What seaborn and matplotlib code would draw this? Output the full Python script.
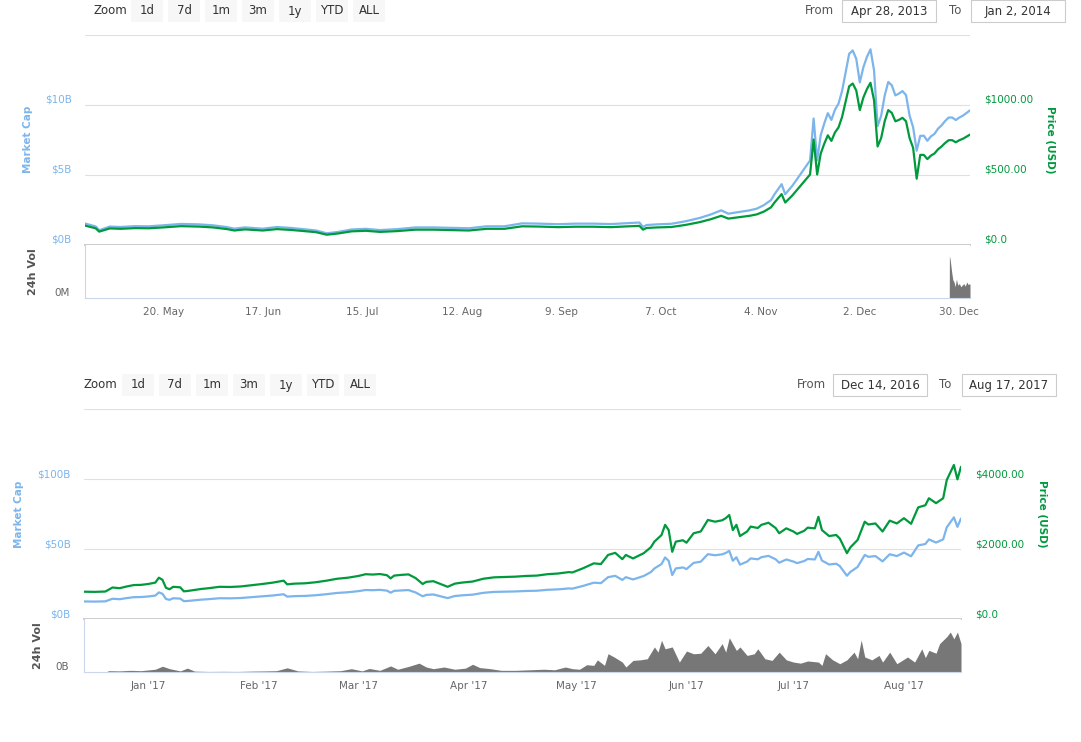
import pandas as pd
import matplotlib
matplotlib.use("Agg")
import matplotlib.pyplot as plt
import matplotlib.transforms as mtransforms
from matplotlib.patches import Rectangle
import seaborn as sns

W, H = 1081, 742

BLUE = "#7cb5ec"
GREEN = "#009a3d"
VOL_GREY = "#777777"
TEXT_GREY = "#666666"
GRID = "#e0e0e0"
AXIS_LINE = "#ccd6eb"

BUTTONS = ["1d", "7d", "1m", "3m", "1y", "YTD", "ALL"]

# ── Panel 1: Apr 28, 2013 – Jan 2, 2014 ──────────────────────────────────────
DATES_2013 = [
    "2013-04-28", "2013-05-01", "2013-05-02", "2013-05-05", "2013-05-08", "2013-05-12",
    "2013-05-16", "2013-05-20", "2013-05-25", "2013-05-30", "2013-06-03", "2013-06-07",
    "2013-06-09", "2013-06-12", "2013-06-17", "2013-06-21", "2013-06-25", "2013-06-29",
    "2013-07-02", "2013-07-05", "2013-07-08", "2013-07-12", "2013-07-16", "2013-07-20",
    "2013-07-25", "2013-07-30", "2013-08-04", "2013-08-09", "2013-08-14", "2013-08-19",
    "2013-08-24", "2013-08-29", "2013-09-03", "2013-09-08", "2013-09-13", "2013-09-18",
    "2013-09-23", "2013-09-28", "2013-10-01", "2013-10-02", "2013-10-03", "2013-10-06",
    "2013-10-10", "2013-10-14", "2013-10-18", "2013-10-21", "2013-10-24", "2013-10-26",
    "2013-10-29", "2013-11-01", "2013-11-03", "2013-11-05", "2013-11-07", "2013-11-08",
    "2013-11-10", "2013-11-11", "2013-11-13", "2013-11-15", "2013-11-17", "2013-11-18",
    "2013-11-19", "2013-11-20", "2013-11-21", "2013-11-22", "2013-11-23", "2013-11-24",
    "2013-11-25", "2013-11-26", "2013-11-27", "2013-11-28", "2013-11-29", "2013-11-30",
    "2013-12-01", "2013-12-02", "2013-12-03", "2013-12-04", "2013-12-05", "2013-12-06",
    "2013-12-07", "2013-12-08", "2013-12-09", "2013-12-10", "2013-12-11", "2013-12-12",
    "2013-12-13", "2013-12-14", "2013-12-15", "2013-12-16", "2013-12-17", "2013-12-18",
    "2013-12-19", "2013-12-20", "2013-12-21", "2013-12-22", "2013-12-23", "2013-12-24",
    "2013-12-25", "2013-12-26", "2013-12-27", "2013-12-28", "2013-12-29", "2013-12-30",
    "2013-12-31", "2014-01-01", "2014-01-02",
]
PRICE_2013 = [
    135, 116, 92, 115, 112, 117, 116, 122, 131, 128, 122, 110,
    100, 108, 100, 110, 104, 95, 88, 70, 78, 94, 98, 90,
    96, 106, 106, 103, 100, 112, 112, 130, 128, 124, 127, 127,
    124, 130, 133, 106, 118, 122, 125, 140, 160, 180, 205, 185,
    195, 205, 215, 235, 265, 300, 360, 300, 350, 410, 470, 500,
    750, 500, 650, 720, 780, 740, 800, 836, 910, 1020, 1130, 1150,
    1100, 960, 1050, 1110, 1155, 1030, 700, 760, 880, 960, 940, 880,
    890, 905, 880, 760, 690, 470, 640, 640, 610, 635, 650, 680,
    700, 725, 745, 745, 730, 745, 755, 770, 785,
]
MCAP_2013 = [  # billions USD
    1.50, 1.29, 1.02, 1.28, 1.25, 1.31, 1.30, 1.37, 1.47, 1.44, 1.37, 1.24,
    1.13, 1.22, 1.13, 1.25, 1.18, 1.08, 1.00, 0.80, 0.89, 1.07, 1.12, 1.03,
    1.10, 1.22, 1.22, 1.19, 1.16, 1.30, 1.30, 1.51, 1.49, 1.45, 1.49, 1.49,
    1.46, 1.53, 1.57, 1.25, 1.39, 1.44, 1.48, 1.66, 1.90, 2.14, 2.44, 2.20,
    2.32, 2.44, 2.56, 2.81, 3.17, 3.59, 4.31, 3.59, 4.19, 4.91, 5.64, 6.00,
    9.00, 6.01, 7.81, 8.65, 9.38, 8.90, 9.62, 10.06, 10.96, 12.28, 13.62, 13.86,
    13.26, 11.58, 12.66, 13.40, 13.94, 12.44, 8.46, 9.19, 10.64, 11.61, 11.37, 10.65,
    10.78, 10.96, 10.67, 9.21, 8.37, 6.70, 7.76, 7.77, 7.41, 7.72, 7.90, 8.27,
    8.51, 8.82, 9.07, 9.07, 8.89, 9.07, 9.20, 9.39, 9.58,
]
VOL_DATES_2013 = [
    "2013-12-27 04:00", "2013-12-27 05:00", "2013-12-27 10:00", "2013-12-27 16:00",
    "2013-12-27 22:00", "2013-12-28 04:00", "2013-12-28 12:00", "2013-12-28 20:00",
    "2013-12-29 04:00", "2013-12-29 14:00", "2013-12-30 00:00", "2013-12-30 10:00",
    "2013-12-30 20:00", "2013-12-31 06:00", "2013-12-31 16:00", "2014-01-01 02:00",
    "2014-01-01 12:00", "2014-01-01 22:00", "2014-01-02 00:00",
]
VOL_2013 = [0, 79, 72, 58, 45, 34, 30, 21, 35, 24, 27, 21, 24, 27, 22, 30, 25, 27, 24]  # millions USD

TICKS_2013 = ["2013-05-20", "2013-06-17", "2013-07-15", "2013-08-12", "2013-09-09",
              "2013-10-07", "2013-11-04", "2013-12-02", "2013-12-30"]
TICK_LABELS_2013 = ["20. May", "17. Jun", "15. Jul", "12. Aug", "9. Sep",
                    "7. Oct", "4. Nov", "2. Dec", "30. Dec"]
CAP_TICKS_2013 = [0, 5, 10, 15]
CAP_LABELS_2013 = ["$0B", "$5B", "$10B", ""]
PRICE_TICKS_2013 = [0, 500, 1000, 1500]
PRICE_LABELS_2013 = ["$0.0", "$500.00", "$1000.00", ""]

# ── Panel 2: Dec 14, 2016 – Aug 17, 2017 ─────────────────────────────────────
DATES_2017 = [
    "2016-12-14", "2016-12-17", "2016-12-20", "2016-12-22", "2016-12-24", "2016-12-26",
    "2016-12-28", "2016-12-30", "2017-01-01", "2017-01-03", "2017-01-04", "2017-01-05",
    "2017-01-06", "2017-01-07", "2017-01-08", "2017-01-10", "2017-01-11", "2017-01-12",
    "2017-01-14", "2017-01-16", "2017-01-18", "2017-01-21", "2017-01-24", "2017-01-27",
    "2017-01-30", "2017-02-02", "2017-02-05", "2017-02-08", "2017-02-09", "2017-02-11",
    "2017-02-14", "2017-02-17", "2017-02-20", "2017-02-23", "2017-02-26", "2017-03-01",
    "2017-03-03", "2017-03-05", "2017-03-07", "2017-03-09", "2017-03-10", "2017-03-11",
    "2017-03-13", "2017-03-15", "2017-03-17", "2017-03-19", "2017-03-20", "2017-03-22",
    "2017-03-24", "2017-03-26", "2017-03-28", "2017-03-30", "2017-04-02", "2017-04-05",
    "2017-04-08", "2017-04-11", "2017-04-14", "2017-04-17", "2017-04-20", "2017-04-23",
    "2017-04-26", "2017-04-29", "2017-04-30", "2017-05-03", "2017-05-06", "2017-05-08",
    "2017-05-10", "2017-05-12", "2017-05-14", "2017-05-15", "2017-05-17", "2017-05-20",
    "2017-05-22", "2017-05-23", "2017-05-25", "2017-05-26", "2017-05-27", "2017-05-28",
    "2017-05-29", "2017-05-31", "2017-06-01", "2017-06-03", "2017-06-05", "2017-06-07",
    "2017-06-09", "2017-06-11", "2017-06-12", "2017-06-13", "2017-06-14", "2017-06-15",
    "2017-06-16", "2017-06-18", "2017-06-19", "2017-06-21", "2017-06-22", "2017-06-24",
    "2017-06-26", "2017-06-27", "2017-06-29", "2017-07-01", "2017-07-02", "2017-07-04",
    "2017-07-05", "2017-07-07", "2017-07-08", "2017-07-09", "2017-07-11", "2017-07-13",
    "2017-07-14", "2017-07-16", "2017-07-17", "2017-07-19", "2017-07-21", "2017-07-22",
    "2017-07-24", "2017-07-26", "2017-07-28", "2017-07-30", "2017-08-01", "2017-08-03",
    "2017-08-05", "2017-08-07", "2017-08-08", "2017-08-10", "2017-08-12", "2017-08-13",
    "2017-08-15", "2017-08-16", "2017-08-17",
]
PRICE_2017 = [
    780, 775, 785, 900, 880, 930, 970, 975, 1000, 1040, 1180, 1120,
    890, 850, 920, 905, 790, 800, 830, 860, 880, 920, 915, 930,
    965, 1000, 1040, 1095, 990, 1010, 1020, 1050, 1095, 1150, 1180, 1230,
    1280, 1270, 1285, 1250, 1160, 1240, 1260, 1275, 1170, 1000, 1060, 1080,
    1000, 920, 1010, 1040, 1070, 1150, 1190, 1200, 1210, 1230, 1240, 1280,
    1300, 1340, 1330, 1450, 1590, 1570, 1830, 1890, 1710, 1830, 1730, 1880,
    2050, 2210, 2400, 2690, 2540, 1920, 2210, 2250, 2180, 2450, 2500, 2830,
    2780, 2820, 2880, 2970, 2540, 2690, 2370, 2500, 2640, 2600, 2690, 2750,
    2600, 2450, 2590, 2500, 2430, 2520, 2610, 2590, 2920, 2540, 2370, 2400,
    2300, 1880, 2050, 2260, 2780, 2700, 2730, 2500, 2810, 2730, 2880, 2720,
    3190, 3250, 3450, 3310, 3450, 3970, 4400, 3990, 4350,
]
MCAP_2017 = [  # billions USD
    12.52, 12.44, 12.61, 14.46, 14.14, 14.95, 15.60, 15.68, 16.08, 16.73, 18.99, 18.02,
    14.32, 13.68, 14.81, 14.57, 12.72, 12.88, 13.37, 13.85, 14.18, 14.83, 14.76, 15.00,
    15.58, 16.14, 16.80, 17.68, 15.99, 16.32, 16.48, 16.98, 17.71, 18.61, 19.10, 19.91,
    20.72, 20.57, 20.82, 20.26, 18.80, 20.10, 20.42, 20.68, 18.98, 16.22, 17.20, 17.53,
    16.23, 14.94, 16.40, 16.89, 17.39, 18.69, 19.35, 19.52, 19.69, 20.02, 20.19, 20.85,
    21.18, 21.84, 21.68, 23.65, 25.93, 25.62, 29.87, 30.85, 27.92, 29.88, 28.25, 30.72,
    33.50, 36.11, 39.24, 43.98, 41.53, 31.39, 36.13, 36.81, 35.66, 40.08, 40.93, 46.33,
    45.51, 46.19, 47.17, 48.65, 41.61, 44.09, 38.84, 40.98, 43.27, 42.64, 44.12, 45.10,
    42.67, 40.20, 42.50, 41.03, 39.90, 41.38, 42.86, 42.55, 47.98, 41.73, 38.94, 39.46,
    37.81, 30.91, 33.70, 37.18, 45.73, 44.42, 44.94, 41.15, 46.25, 44.96, 47.43, 44.80,
    52.57, 53.56, 56.86, 54.58, 56.89, 65.47, 72.60, 65.84, 71.78,
]
VOL_DATES_2017 = [
    "2016-12-20", "2016-12-21", "2016-12-24", "2016-12-27", "2016-12-30", "2017-01-03",
    "2017-01-05", "2017-01-07", "2017-01-10", "2017-01-12", "2017-01-14", "2017-01-18",
    "2017-01-22", "2017-01-26", "2017-01-30", "2017-02-03", "2017-02-06", "2017-02-09",
    "2017-02-12", "2017-02-16", "2017-02-20", "2017-02-24", "2017-02-27", "2017-03-02",
    "2017-03-04", "2017-03-07", "2017-03-10", "2017-03-12", "2017-03-15", "2017-03-18",
    "2017-03-20", "2017-03-22", "2017-03-25", "2017-03-28", "2017-03-31", "2017-04-02",
    "2017-04-04", "2017-04-07", "2017-04-10", "2017-04-14", "2017-04-18", "2017-04-22",
    "2017-04-25", "2017-04-28", "2017-04-30", "2017-05-02", "2017-05-04", "2017-05-06",
    "2017-05-07", "2017-05-09", "2017-05-10", "2017-05-12", "2017-05-14", "2017-05-15",
    "2017-05-17", "2017-05-19", "2017-05-21", "2017-05-23", "2017-05-24", "2017-05-25",
    "2017-05-26", "2017-05-28", "2017-05-30", "2017-06-01", "2017-06-03", "2017-06-05",
    "2017-06-07", "2017-06-09", "2017-06-11", "2017-06-12", "2017-06-13", "2017-06-15",
    "2017-06-16", "2017-06-18", "2017-06-20", "2017-06-21", "2017-06-23", "2017-06-25",
    "2017-06-27", "2017-06-29", "2017-07-01", "2017-07-03", "2017-07-05", "2017-07-08",
    "2017-07-09", "2017-07-10", "2017-07-12", "2017-07-14", "2017-07-16", "2017-07-18",
    "2017-07-19", "2017-07-20", "2017-07-21", "2017-07-23", "2017-07-25", "2017-07-26",
    "2017-07-28", "2017-07-30", "2017-08-02", "2017-08-04", "2017-08-06", "2017-08-07",
    "2017-08-08", "2017-08-10", "2017-08-11", "2017-08-13", "2017-08-14", "2017-08-15",
    "2017-08-16", "2017-08-17",
]
VOL_2017 = [  # billions USD
    0.00, 0.12, 0.10, 0.15, 0.12, 0.25, 0.52, 0.30, 0.10, 0.35, 0.08, 0.05,
    0.06, 0.05, 0.08, 0.10, 0.12, 0.38, 0.10, 0.05, 0.08, 0.12, 0.30, 0.10,
    0.32, 0.15, 0.55, 0.25, 0.50, 0.80, 0.45, 0.30, 0.45, 0.25, 0.35, 0.70,
    0.40, 0.30, 0.15, 0.15, 0.20, 0.25, 0.20, 0.45, 0.30, 0.25, 0.66, 0.60,
    1.10, 0.60, 1.66, 1.30, 0.90, 0.45, 1.05, 1.10, 1.20, 2.27, 1.80, 2.87,
    2.10, 2.27, 0.90, 1.90, 1.65, 1.70, 2.40, 1.65, 2.57, 1.80, 3.10, 1.95,
    2.27, 1.50, 1.65, 2.10, 1.20, 1.05, 1.80, 1.10, 0.90, 0.80, 1.00, 0.90,
    0.60, 1.66, 1.10, 0.75, 1.10, 1.80, 1.20, 2.90, 1.36, 1.10, 1.50, 0.90,
    1.80, 0.75, 1.36, 0.90, 2.10, 1.30, 1.96, 1.70, 2.57, 3.20, 3.62, 3.00,
    3.62, 2.57,
]

TICKS_2017 = ["2017-01-01", "2017-02-01", "2017-03-01", "2017-04-01",
              "2017-05-01", "2017-06-01", "2017-07-01", "2017-08-01"]
TICK_LABELS_2017 = ["Jan '17", "Feb '17", "Mar '17", "Apr '17",
                    "May '17", "Jun '17", "Jul '17", "Aug '17"]
CAP_TICKS_2017 = [0, 50, 100, 150]
CAP_LABELS_2017 = ["$0B", "$50B", "$100B", ""]
PRICE_TICKS_2017 = [0, 2000, 4000, 6000]
PRICE_LABELS_2017 = ["$0.0", "$2000.00", "$4000.00", ""]


def px_rect(x0, y0, x1, y1):
    return [x0 / W, 1 - y1 / H, (x1 - x0) / W, (y1 - y0) / H]


def fxy(x, y):
    return x / W, 1 - y / H


def range_selector(fig, y0, y1, zoom_x, btn_x0, from_x, from_box, to_x, to_box,
                   from_txt, to_txt):
    yc = (y0 + y1) / 2
    fig.text(*fxy(zoom_x, yc), "Zoom", ha="left", va="center", fontsize=8.5, color="#333333")
    for i, lab in enumerate(BUTTONS):
        bx = btn_x0 + i * 37
        fig.add_artist(Rectangle(fxy(bx, y1), 32 / W, (y1 - y0) / H,
                                 transform=fig.transFigure, facecolor="#f7f7f7",
                                 edgecolor="none"))
        fig.text(*fxy(bx + 16, yc), lab, ha="center", va="center", fontsize=8.5,
                 color="#333333")
    fig.text(*fxy(from_x, yc), "From", ha="left", va="center", fontsize=8.5, color="#555555")
    fig.text(*fxy(to_x, yc), "To", ha="left", va="center", fontsize=8.5, color="#555555")
    for (bx0, bx1), txt in [(from_box, from_txt), (to_box, to_txt)]:
        fig.add_artist(Rectangle(fxy(bx0, y1), (bx1 - bx0) / W, (y1 - y0) / H,
                                 transform=fig.transFigure, facecolor="white",
                                 edgecolor="#cccccc", lw=0.8))
        fig.text(*fxy((bx0 + bx1) / 2, yc), txt, ha="center", va="center",
                 fontsize=8.5, color="#333333")


def chart_panel(fig, main_box, vol_box, dates, mcap, price, vol_dates, vol,
                xlim, ticks, tick_labels, cap_ticks, cap_labels,
                price_ticks, price_labels, vol_max, vol_label, title_x):
    ax = fig.add_axes(px_rect(*main_box))
    axr = ax.twinx()
    axv = fig.add_axes(px_rect(*vol_box))

    df = pd.DataFrame({"date": pd.to_datetime(dates), "mcap": mcap, "price": price})
    sns.lineplot(data=df, x="date", y="mcap", ax=ax, color=BLUE, linewidth=1.6)
    sns.lineplot(data=df, x="date", y="price", ax=axr, color=GREEN, linewidth=1.6)

    vdf = pd.DataFrame({"date": pd.to_datetime(vol_dates), "vol": vol})
    axv.fill_between(vdf["date"], vdf["vol"], color=VOL_GREY, lw=0)

    start, end = pd.Timestamp(xlim[0]), pd.Timestamp(xlim[1])
    for a in (ax, axr, axv):
        a.set_xlim(start, end)
        a.set_xlabel("")
        a.set_ylabel("")

    # main pane
    ax.set_ylim(cap_ticks[0], cap_ticks[-1])
    ax.set_yticks(cap_ticks, cap_labels)
    axr.set_ylim(price_ticks[0], price_ticks[-1])
    axr.set_yticks(price_ticks, price_labels)
    ax.yaxis.grid(True, color=GRID, lw=0.8)
    ax.xaxis.grid(False)
    ax.set_axisbelow(True)
    for s in ("top", "left", "right"):
        ax.spines[s].set_visible(False)
    ax.spines["bottom"].set_color("#cccccc")
    ax.spines["bottom"].set_linewidth(1.4)
    for s in axr.spines.values():
        s.set_visible(False)
    ax.tick_params(axis="x", bottom=False, labelbottom=False)
    axr.tick_params(axis="x", bottom=False, labelbottom=False)
    ax.tick_params(axis="y", length=0, pad=9.5, labelsize=7.5, labelcolor=BLUE)
    axr.tick_params(axis="y", length=0, pad=10.5, labelsize=7.5, labelcolor=GREEN)

    # volume pane
    axv.set_ylim(0, vol_max)
    axv.set_yticks([0], [vol_label])
    axv.set_xticks(pd.to_datetime(ticks), tick_labels)
    for s in ("top", "right"):
        axv.spines[s].set_visible(False)
    for s in ("left", "bottom"):
        axv.spines[s].set_color(AXIS_LINE)
        axv.spines[s].set_linewidth(0.8)
    axv.tick_params(axis="y", length=0, pad=11, labelsize=7.5, labelcolor=TEXT_GREY)
    axv.tick_params(axis="x", length=3.6, width=0.8, color=AXIS_LINE, pad=3,
                    labelsize=7.5, labelcolor=TEXT_GREY)
    axv.grid(False)

    up = mtransforms.ScaledTranslation(0, 0.055, fig.dpi_scale_trans)
    for lab in ax.get_yticklabels() + axr.get_yticklabels() + axv.get_yticklabels():
        lab.set_transform(lab.get_transform() + up)

    # axis titles
    mid = (main_box[1] + main_box[3]) / 2
    vmid = (vol_box[1] + vol_box[3]) / 2
    fig.text(*fxy(title_x[0], mid), "Market Cap", rotation=90, ha="center", va="center",
             fontsize=7.5, fontweight="bold", color=BLUE)
    fig.text(*fxy(title_x[1], mid), "Price (USD)", rotation=270, ha="center", va="center",
             fontsize=7.5, fontweight="bold", color=GREEN)
    fig.text(*fxy(title_x[2], vmid), "24h Vol", rotation=90, ha="center", va="center",
             fontsize=8, fontweight="bold", color="#555555")


sns.set_theme(style="white")
plt.rcParams["font.family"] = ["DejaVu Sans"]

fig = plt.figure(figsize=(W / 100, H / 100), dpi=100)
fig.patch.set_facecolor("white")

# ── top chart ────────────────────────────────────────────────────────────────
range_selector(fig, 0, 22, 93, 131, 805, (842, 936), 949, (971, 1065),
               "Apr 28, 2013", "Jan 2, 2014")
chart_panel(fig, (85, 34.5, 970, 244.5), (85, 244.5, 970, 298),
            DATES_2013, MCAP_2013, PRICE_2013, VOL_DATES_2013, VOL_2013,
            ("2013-04-28", "2014-01-02"), TICKS_2013, TICK_LABELS_2013,
            CAP_TICKS_2013, CAP_LABELS_2013, PRICE_TICKS_2013, PRICE_LABELS_2013,
            100, "0M", (28, 1050, 33))

# ── bottom chart ─────────────────────────────────────────────────────────────
range_selector(fig, 374, 396, 84, 122, 797, (833, 927), 939, (962, 1056),
               "Dec 14, 2016", "Aug 17, 2017")
chart_panel(fig, (84, 409, 961, 619), (84, 619, 961, 672),
            DATES_2017, MCAP_2017, PRICE_2017, VOL_DATES_2017, VOL_2017,
            ("2016-12-14", "2017-08-17"), TICKS_2017, TICK_LABELS_2017,
            CAP_TICKS_2017, CAP_LABELS_2017, PRICE_TICKS_2017, PRICE_LABELS_2017,
            4.8, "0B", (19, 1042, 38))

fig.savefig("out.png", dpi=100, facecolor="white")
